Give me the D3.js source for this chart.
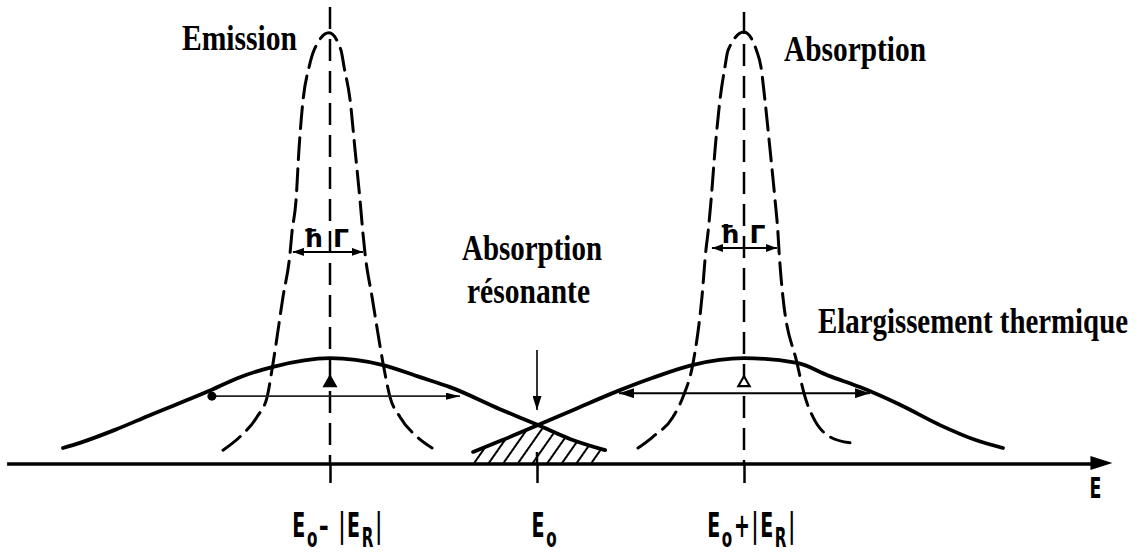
<!DOCTYPE html>
<html>
<head>
<meta charset="utf-8">
<script src="https://cdn.jsdelivr.net/npm/d3@7"></script>
<style>
  html, body { margin: 0; padding: 0; background: #fff; }
  svg { display: block; }
</style>
</head>
<body>
<svg id="chart" width="1144" height="552"></svg>
<script>
// Energy axis in units of |E_R|: E0 = 0, emission line at -1, absorption line at +1.
const tickValues = [-1, 0, 1];
// Tick labels as alternating [normal, subscript, normal, subscript, ...] pieces
const tickLabelParts = [
  ["E", "o", "\u2013 |E", "R", "|"],
  ["E", "o"],
  ["E", "o", "+|E", "R", "|"]
];
const axisExtent = [-2.56, 2.78];

// Natural (recoil-free) emission line, dashed
const emissionE = [-1.517, -1.435, -1.353, -1.304, -1.275, -1.227, -1.193, -1.184, -1.164, -1.150, -1.130, -1.101, -1.077, -1.005, -0.947, -0.932, -0.903, -0.879, -0.855, -0.841, -0.831, -0.797, -0.744, -0.710, -0.662, -0.580, -0.507];
const emissionI = [0.032, 0.063, 0.109, 0.155, 0.234, 0.387, 0.488, 0.535, 0.611, 0.727, 0.843, 0.919, 0.958, 0.998, 0.958, 0.919, 0.843, 0.727, 0.611, 0.535, 0.488, 0.387, 0.234, 0.155, 0.109, 0.063, 0.037];

// Natural absorption line, dashed
const absorptionE = [0.488, 0.560, 0.657, 0.705, 0.754, 0.797, 0.816, 0.826, 0.841, 0.860, 0.884, 0.908, 0.923, 1.000, 1.060, 1.082, 1.101, 1.126, 1.150, 1.164, 1.169, 1.188, 1.256, 1.295, 1.333, 1.415, 1.512];
const absorptionI = [0.037, 0.063, 0.109, 0.155, 0.234, 0.387, 0.495, 0.535, 0.611, 0.727, 0.843, 0.919, 0.958, 1.000, 0.958, 0.919, 0.843, 0.727, 0.611, 0.535, 0.495, 0.387, 0.234, 0.155, 0.109, 0.063, 0.049];

// Thermally broadened emission line
const emissionBroadE = [-2.290, -2.208, -2.039, -1.870, -1.594, -1.435, -1.275, -1.000, -0.744, -0.565, -0.420, -0.179, 0.005, 0.159, 0.329];
const emissionBroadI = [0.037, 0.049, 0.079, 0.113, 0.167, 0.201, 0.225, 0.245, 0.229, 0.201, 0.178, 0.127, 0.090, 0.058, 0.032];

// Thermally broadened absorption line
const absorptionBroadE = [-0.309, -0.179, 0.005, 0.184, 0.401, 0.556, 0.749, 1.000, 1.256, 1.411, 1.560, 1.754, 1.947, 2.116, 2.251];
const absorptionBroadI = [0.028, 0.053, 0.090, 0.127, 0.171, 0.199, 0.229, 0.245, 0.234, 0.204, 0.178, 0.137, 0.090, 0.056, 0.037];

// Width arrows: [E start, E end, intensity level]
const naturalWidthArrows = [[-1.179, -0.841, 0.491], [0.845, 1.159, 0.500]];
const thermalWidthArrows = [[-1.585, -0.372, 0.157], [0.396, 1.609, 0.164]];
const deltaMarks = [[-1, 0.188], [1, 0.188]];
const resonanceArrow = [0, 0.264, 0.125];

const svg = d3.select("#chart");
const x = d3.scaleLinear().domain([-1, 1]).range([330, 744]);
const y = d3.scaleLinear().domain([0, 1]).range([464, 32]);

const zip = (a, b) => a.map((v, i) => [v, b[i]]);
const line = d3.line().x(d => x(d[0])).y(d => y(d[1])).curve(d3.curveMonotoneX);
const area = d3.area().x(d => x(d[0])).y0(y(0)).y1(d => y(d[1])).curve(d3.curveMonotoneX);

const defs = svg.append("defs");
function marker(id, len, wid) {
  defs.append("marker")
    .attr("id", id).attr("viewBox", "0 0 10 10")
    .attr("refX", 10).attr("refY", 5)
    .attr("markerUnits", "userSpaceOnUse")
    .attr("markerWidth", len).attr("markerHeight", wid)
    .attr("orient", "auto-start-reverse")
    .attr("preserveAspectRatio", "none")
    .append("path").attr("d", "M0,0 L10,5 L0,10 Z").attr("fill", "#000");
}
marker("headSmall", 11, 8);
marker("headMid", 15, 10);
marker("headThin", 14, 7);
marker("headDown", 14, 9);

// Hatching for the resonant overlap
const pat = defs.append("pattern")
  .attr("id", "hatch").attr("patternUnits", "userSpaceOnUse")
  .attr("width", 12).attr("height", 12)
  .attr("patternTransform", "rotate(35)");
pat.append("line").attr("x1", 6).attr("y1", 0).attr("x2", 6).attr("y2", 12)
  .attr("stroke", "#000").attr("stroke-width", 2);

defs.append("clipPath").attr("id", "underEmission")
  .append("path").attr("d", area(zip(emissionBroadE, emissionBroadI)));
defs.append("clipPath").attr("id", "underAbsorption")
  .append("path").attr("d", area(zip(absorptionBroadE, absorptionBroadI)));

svg.append("g").attr("clip-path", "url(#underEmission)")
  .append("rect")
  .attr("clip-path", "url(#underAbsorption)")
  .attr("x", x(-0.5)).attr("y", y(0.3))
  .attr("width", x(0.5) - x(-0.5)).attr("height", y(0) - y(0.3))
  .attr("fill", "url(#hatch)");

// Dashed centre lines of the two lines
svg.append("g").selectAll("line").data([-1, 1]).join("line")
  .attr("x1", d => x(d)).attr("x2", d => x(d))
  .attr("y1", d => d < 0 ? 7 : 12).attr("y2", y(0))
  .attr("stroke", "#000").attr("stroke-width", 2.5)
  .attr("stroke-dasharray", "22,10");

// Natural lines (dashed)
svg.append("g").selectAll("path")
  .data([zip(emissionE, emissionI), zip(absorptionE, absorptionI)])
  .join("path")
  .attr("d", line)
  .attr("fill", "none").attr("stroke", "#000")
  .attr("stroke-width", 3).attr("stroke-dasharray", "22,9")
  .attr("stroke-linecap", "round");

// Thermally broadened lines (solid)
svg.append("g").selectAll("path")
  .data([zip(emissionBroadE, emissionBroadI), zip(absorptionBroadE, absorptionBroadI)])
  .join("path")
  .attr("d", line)
  .attr("fill", "none").attr("stroke", "#000")
  .attr("stroke-width", 3.8).attr("stroke-linecap", "round");

// Energy axis with arrow
svg.append("line")
  .attr("x1", x(axisExtent[0])).attr("x2", x(axisExtent[1]) - 20)
  .attr("y1", y(0)).attr("y2", y(0))
  .attr("stroke", "#000").attr("stroke-width", 3.5);
svg.append("path")
  .attr("d", `M${x(axisExtent[1])},${y(0) - 1} L${x(axisExtent[1]) - 22},${y(0) - 8} L${x(axisExtent[1]) - 22},${y(0) + 6} Z`)
  .attr("fill", "#000");
svg.append("text")
  .attr("transform", `translate(${x(axisExtent[1]) - 23},498) scale(0.6,1)`)
  .style("font-family", "DejaVu Sans").style("font-size", "29px").style("font-weight", "bold")
  .text("E");

// Ticks
const axisG = svg.append("g").attr("transform", `translate(0,${y(0)})`)
  .call(d3.axisBottom(x).tickValues(tickValues).tickSize(19).tickFormat(""));
axisG.select(".domain").remove();
axisG.selectAll(".tick line").attr("stroke", "#000").attr("stroke-width", 2.5);
svg.append("line")
  .attr("x1", x(0)).attr("x2", x(0)).attr("y1", y(0) - 12).attr("y2", y(0))
  .attr("stroke", "#000").attr("stroke-width", 2.5);

// Tick labels with subscripts
svg.append("g").selectAll("text").data(tickValues).join("text")
  .attr("transform", d => `translate(${x(d) + 8},537) scale(0.56,1)`)
  .attr("text-anchor", "middle")
  .style("font-family", "DejaVu Sans").style("font-size", "34px")
  .style("font-weight", "bold")
  .style("letter-spacing", "3px")
  .each(function (d, i) {
    const t = d3.select(this);
    tickLabelParts[i].forEach((p, j) => {
      t.append("tspan").text(p)
        .style("font-size", j % 2 ? "27px" : "34px")
        .attr("dy", j === 0 ? 0 : (j % 2 ? 10 : -10));
    });
  });

// Natural width arrows with hbar-Gamma labels
svg.append("g").selectAll("line").data(naturalWidthArrows).join("line")
  .attr("x1", d => x(d[0])).attr("x2", d => x(d[1]))
  .attr("y1", d => y(d[2])).attr("y2", d => y(d[2]))
  .attr("stroke", "#000").attr("stroke-width", 2)
  .attr("marker-start", "url(#headSmall)").attr("marker-end", "url(#headSmall)");
const hg = svg.append("g").selectAll("g").data(naturalWidthArrows).join("g")
  .attr("transform", d => `translate(${x((d[0] + d[1]) / 2)},${y(d[2]) - 5})`)
  .style("font-family", "DejaVu Sans").style("font-size", "25px").style("font-weight", "bold");
hg.append("text").attr("x", -5).attr("text-anchor", "end").text("\u0127");
hg.append("text").attr("x", 5).attr("text-anchor", "start").text("\u0393");

// Thermal width arrows
svg.append("line")
  .attr("x1", x(thermalWidthArrows[0][0])).attr("x2", x(thermalWidthArrows[0][1]))
  .attr("y1", y(thermalWidthArrows[0][2])).attr("y2", y(thermalWidthArrows[0][2]))
  .attr("stroke", "#222").attr("stroke-width", 1.8)
  .attr("marker-end", "url(#headThin)");
svg.append("circle")
  .attr("cx", x(thermalWidthArrows[0][0]) + 3).attr("cy", y(thermalWidthArrows[0][2]))
  .attr("r", 4.5).attr("fill", "#000");
svg.append("line")
  .attr("x1", x(thermalWidthArrows[1][0])).attr("x2", x(thermalWidthArrows[1][1]))
  .attr("y1", y(thermalWidthArrows[1][2])).attr("y2", y(thermalWidthArrows[1][2]))
  .attr("stroke", "#000").attr("stroke-width", 2)
  .attr("marker-start", "url(#headMid)").attr("marker-end", "url(#headMid)");

// Delta marks
svg.append("g").selectAll("path").data(deltaMarks).join("path")
  .attr("transform", d => `translate(${x(d[0])},${y(d[1])})`)
  .attr("d", d3.symbol(d3.symbolTriangle, 55))
  .attr("fill", (d, i) => i === 0 ? "#000" : "#fff")
  .attr("stroke", "#000").attr("stroke-width", 2.2);

// Arrow pointing at the resonant overlap
svg.append("line")
  .attr("x1", x(resonanceArrow[0])).attr("x2", x(resonanceArrow[0]))
  .attr("y1", y(resonanceArrow[1])).attr("y2", y(resonanceArrow[2]))
  .attr("stroke", "#000").attr("stroke-width", 1.6)
  .attr("marker-end", "url(#headDown)");

// Titles: bold serif, stretched vertically
const titles = [
  { t: "Emission", x: 182, y: 50, w: 115 },
  { t: "Absorption", x: 784, y: 61, w: 142 },
  { t: "Absorption", x: 462, y: 260, w: 140 },
  { t: "résonante", x: 467, y: 303, w: 123 },
  { t: "Elargissement thermique", x: 818, y: 333, w: 310 }
];
svg.append("g").selectAll("text").data(titles).join("text")
  .attr("transform", d => `translate(${d.x},${d.y}) scale(1,1.22)`)
  .attr("textLength", d => d.w).attr("lengthAdjust", "spacingAndGlyphs")
  .style("font-family", "Liberation Serif").style("font-weight", "bold")
  .style("font-size", "28.5px").style("fill", "#000")
  .text(d => d.t);
</script>
</body>
</html>
